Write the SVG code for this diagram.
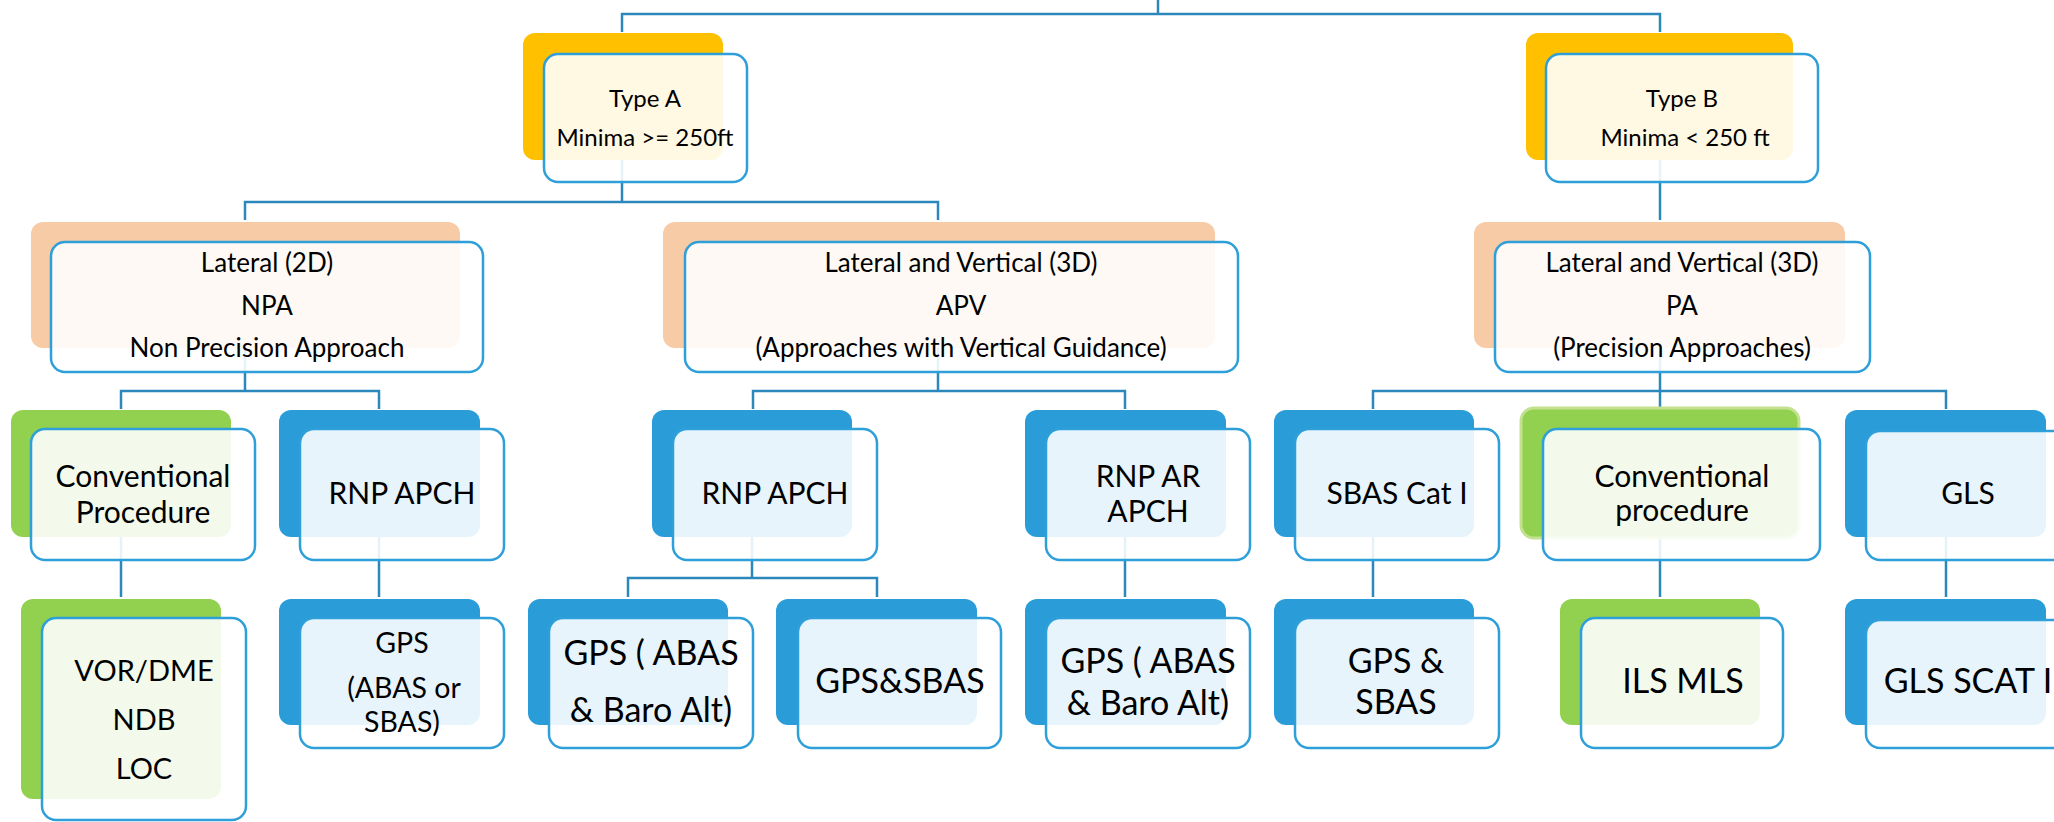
<svg xmlns="http://www.w3.org/2000/svg" width="2054" height="822" viewBox="0 0 2054 822">
<style>
.c{fill:none;stroke:#2C87BC;stroke-width:2.5}
.f{fill:#ffffff;fill-opacity:0.89;stroke:#2E9FD9;stroke-width:2.5}
.y{fill:#FFC000}
.o{fill:#F8CBA7}
.g{fill:#92D050}
.gb{fill:#92D050;stroke:#C3E18E;stroke-width:3}
.b{fill:#2A9DD8}
text{font-family:Lato,"Liberation Sans",sans-serif;fill:#000;text-anchor:middle}
.t1{font-size:24px}
.t2{font-size:26px}
.t3{font-size:30px}
.t4{font-size:34px}
.t5{font-size:29px}
.t6{font-size:28.5px}
</style>
<rect width="2054" height="822" fill="#ffffff"/>
<g id="connectors">
<path class="c" d="M1158 0V14M622 32V14H1660V32"/>
<path class="c" d="M622 158V202M245 220V202H938V220"/>
<path class="c" d="M1660 160V220"/>
<path class="c" d="M245 348V391M121 409V391H379V409"/>
<path class="c" d="M938 348V391M753 409V391H1125V409"/>
<path class="c" d="M1660 348V391M1373 409V391H1946V409M1660 391V407"/>
<path class="c" d="M121 537V597M379 537V597"/>
<path class="c" d="M752 537V578M628 597V578H877V597"/>
<path class="c" d="M1125 537V597M1373 537V597M1660 538V597M1946 537V597"/>
</g>
<g id="typeA">
<rect class="y" x="523" y="33" width="200" height="127" rx="12"/>
<rect class="f" x="544" y="54" width="203" height="128" rx="14"/>
<text class="t1" x="645" y="107">Type A</text>
<text class="t1" x="645" y="146">Minima &gt;= 250ft</text>
</g>
<g id="typeB">
<rect class="y" x="1526" y="33" width="267" height="127" rx="12"/>
<rect class="f" x="1546" y="54" width="272" height="128" rx="14"/>
<text class="t1" x="1682" y="107">Type B</text>
<text class="t1" x="1685" y="146">Minima &lt; 250 ft</text>
</g>
<g id="npa">
<rect class="o" x="31" y="222" width="429" height="126" rx="12"/>
<rect class="f" x="51" y="242" width="432" height="130" rx="14"/>
<text class="t2" x="267" y="272">Lateral (2D)</text>
<text class="t2" x="267" y="315">NPA</text>
<text class="t2" x="267" y="357">Non Precision Approach</text>
</g>
<g id="apv">
<rect class="o" x="663" y="222" width="552" height="126" rx="12"/>
<rect class="f" x="685" y="242" width="553" height="130" rx="14"/>
<text class="t2" x="961" y="272">Lateral and Vertical (3D)</text>
<text class="t2" x="961" y="315">APV</text>
<text class="t2" x="961" y="357">(Approaches with Vertical Guidance)</text>
</g>
<g id="pa">
<rect class="o" x="1474" y="222" width="371" height="126" rx="12"/>
<rect class="f" x="1495" y="242" width="375" height="130" rx="14"/>
<text class="t2" x="1682" y="272">Lateral and Vertical (3D)</text>
<text class="t2" x="1682" y="315">PA</text>
<text class="t2" x="1682" y="357">(Precision Approaches)</text>
</g>
<g id="conv1">
<rect class="g" x="11" y="410" width="220" height="127" rx="12"/>
<rect class="f" x="31" y="429" width="224" height="131" rx="14"/>
<text class="t3" x="143" y="487">Conventional</text>
<text class="t3" x="143" y="523">Procedure</text>
</g>
<g id="rnp1">
<rect class="b" x="279" y="410" width="201" height="127" rx="12"/>
<rect class="f" x="300" y="429" width="204" height="131" rx="14"/>
<text class="t3" x="402" y="504">RNP APCH</text>
</g>
<g id="rnp2">
<rect class="b" x="652" y="410" width="200" height="127" rx="12"/>
<rect class="f" x="673" y="429" width="204" height="131" rx="14"/>
<text class="t3" x="775" y="504">RNP APCH</text>
</g>
<g id="rnpar">
<rect class="b" x="1025" y="410" width="201" height="127" rx="12"/>
<rect class="f" x="1046" y="429" width="204" height="131" rx="14"/>
<text class="t3" x="1148" y="487">RNP AR</text>
<text class="t3" x="1148" y="522">APCH</text>
</g>
<g id="sbas">
<rect class="b" x="1274" y="410" width="200" height="127" rx="12"/>
<rect class="f" x="1295" y="429" width="204" height="131" rx="14"/>
<text class="t3" x="1397" y="504">SBAS Cat I</text>
</g>
<g id="conv2">
<rect class="gb" x="1521" y="408" width="278" height="130" rx="13"/>
<rect class="f" x="1543" y="429" width="277" height="131" rx="14"/>
<text class="t3" x="1682" y="487">Conventional</text>
<text class="t3" x="1682" y="521">procedure</text>
</g>
<g id="gls">
<rect class="b" x="1845" y="410" width="201" height="127" rx="12"/>
<rect class="f" x="1866" y="431" width="210" height="129" rx="14"/>
<text class="t3" x="1968" y="504">GLS</text>
</g>
<g id="vor">
<rect class="g" x="21" y="599" width="200" height="200" rx="12"/>
<rect class="f" x="42" y="618" width="204" height="202" rx="14"/>
<text class="t5" x="144" y="681">VOR/DME</text>
<text class="t5" x="144" y="730">NDB</text>
<text class="t5" x="144" y="779">LOC</text>
</g>
<g id="gps1">
<rect class="b" x="279" y="599" width="201" height="126" rx="12"/>
<rect class="f" x="300" y="618" width="204" height="130" rx="14"/>
<text class="t6" x="402" y="653">GPS</text>
<text class="t6" x="404" y="698">(ABAS or</text>
<text class="t6" x="402" y="732">SBAS)</text>
</g>
<g id="gps2">
<rect class="b" x="528" y="599" width="200" height="126" rx="12"/>
<rect class="f" x="549" y="618" width="204" height="130" rx="14"/>
<text class="t4" x="651" y="665">GPS ( ABAS</text>
<text class="t4" x="651" y="722">&amp; Baro Alt)</text>
</g>
<g id="gps3">
<rect class="b" x="776" y="599" width="201" height="126" rx="12"/>
<rect class="f" x="798" y="618" width="203" height="130" rx="14"/>
<text class="t4" x="900" y="693">GPS&amp;SBAS</text>
</g>
<g id="gps4">
<rect class="b" x="1025" y="599" width="201" height="126" rx="12"/>
<rect class="f" x="1046" y="618" width="204" height="130" rx="14"/>
<text class="t4" x="1148" y="673">GPS ( ABAS</text>
<text class="t4" x="1148" y="715">&amp; Baro Alt)</text>
</g>
<g id="gps5">
<rect class="b" x="1274" y="599" width="200" height="126" rx="12"/>
<rect class="f" x="1295" y="618" width="204" height="130" rx="14"/>
<text class="t4" x="1396" y="673">GPS &amp;</text>
<text class="t4" x="1396" y="714">SBAS</text>
</g>
<g id="ils">
<rect class="g" x="1560" y="599" width="200" height="126" rx="12"/>
<rect class="f" x="1581" y="618" width="202" height="130" rx="14"/>
<text class="t4" x="1683" y="693">ILS MLS</text>
</g>
<g id="glsscat">
<rect class="b" x="1845" y="599" width="201" height="126" rx="12"/>
<rect class="f" x="1866" y="620" width="210" height="128" rx="14"/>
<text class="t4" x="1968" y="693">GLS SCAT I</text>
</g>
</svg>
